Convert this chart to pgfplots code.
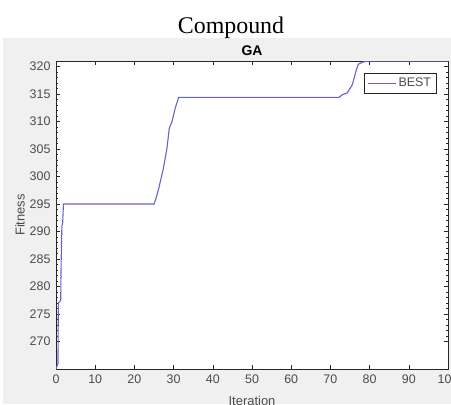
\documentclass[border=0pt]{standalone}
\usepackage{pgfplots}
\pgfplotsset{compat=1.18}
\usepackage{fontspec}
\setmainfont{Liberation Sans}
\newfontfamily\timesfont{Liberation Serif}
\definecolor{figbg}{RGB}{240,240,240}
\definecolor{axgray}{RGB}{38,38,38}
\definecolor{lineblue}{RGB}{100,100,205}
\begin{document}
\begin{tikzpicture}[x=1bp,y=1bp]
\useasboundingbox (0,0) rectangle (451,404);
\clip (0,0) rectangle (451,404);
\fill[white] (0,0) rectangle (451,404);
\fill[figbg] (3,0) rectangle (451,366);
\node[anchor=base,font=\timesfont\fontsize{24}{28}\selectfont] at (231,371) {Compound};
\begin{axis}[
  scale only axis,
  width=392bp, height=308bp,
  at={(56bp,35bp)}, anchor=south west,
  xmin=0, xmax=100, ymin=265, ymax=321,
  xtick={0,10,...,100},
  ytick={270,275,...,320},
  minor y tick num=4,
  tick align=inside,
  major tick length=4bp, minor tick length=2bp,
  axis line style={axgray, line width=0.7bp},
  every tick/.style={axgray, line width=0.6bp},
  axis background/.style={fill=white},
  tick label style={font=\fontsize{12.5}{14}\selectfont, text=black!70},
  /pgf/number format/assume math mode=true,
  /pgf/number format/1000 sep={},
  xticklabel style={yshift=-2bp},
  yticklabel style={xshift=-2bp},
  title={\textbf{GA}},
  title style={font=\fontsize{14}{16}\selectfont, yshift=-4bp},
  xlabel={Iteration},
  ylabel={Fitness},
  label style={font=\fontsize{13}{15}\selectfont, text=black!70},
  xlabel style={yshift=-6bp},
  ylabel style={yshift=-2bp},
  legend style={at={(0.97,0.96)}, anchor=north east, draw=axgray, fill=white,
    font=\fontsize{12.5}{15}\selectfont, text=black!70, inner xsep=3bp, inner ysep=2.5bp},
  legend image code/.code={\draw[#1] (0bp,0bp) -- (28bp,0bp);},
  legend cell align=left,
]
\addplot[lineblue, line width=1.1bp] coordinates {
(0,265) (0.5,266) (0.6,277) (1.2,277.5) (1.3,284) (1.5,291) (1.7,291.5) (1.9,295)
(25,295) (25.5,296) (26.2,297.8) (27.4,301.5) (28.3,305.1) (28.9,308.8) (29.6,310)
(30.4,312.4) (31.3,314.4) (72.2,314.4) (73.1,314.9) (74.3,315.2) (75.6,316.7)
(76.5,319.1) (77.1,320.4) (78.2,320.8) (80,321) (100,321)
};
\addlegendentry{BEST}
\end{axis}
\end{tikzpicture}
\end{document}
